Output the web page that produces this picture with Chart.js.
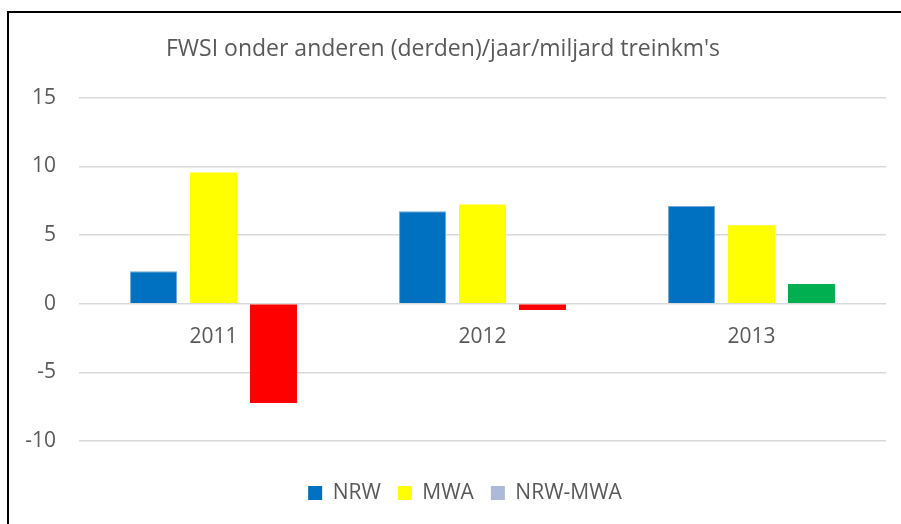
<!DOCTYPE html>
<html>
<head>
<meta charset="utf-8">
<script src="https://cdn.jsdelivr.net/npm/chart.js@4.4.1/dist/chart.umd.min.js"></script>
<style>
  html, body { margin: 0; padding: 0; background: #fff; overflow: hidden; }
  #wrap { position: relative; width: 901px; height: 524px; }
  #frame { position: absolute; left: 7px; top: 11px; width: 1000px; height: 600px;
           border-left: 2px solid #000; border-top: 2px solid #000; pointer-events: none; }
</style>
</head>
<body>
<div id="wrap">
  <canvas id="chart" width="901" height="524"></canvas>
  <div id="frame"></div>
</div>
<script>
// data
const years = ['2011', '2012', '2013'];
const nrw = [2.35, 6.72, 7.11];
const mwa = [9.54, 7.21, 5.7];
const diff = [-7.24, -0.46, 1.43];
const yTicks = [-10, -5, 0, 5, 10, 15];

const textColor = '#595959';
const font = { family: 'Open Sans', size: 21 };

// verschil: rood als negatief, groen als positief
const diffColors = diff.map(v => v < 0 ? '#FF0000' : '#00B050');

// legenda op de plek zetten waar hij in het origineel staat
const legendShift = {
    id: 'legendShift',
    afterLayout(chart) {
        const lg = chart.legend;
        if (!lg) return;
        const p = lg.options.labels.padding;
        const dy = (493 - p - 10.5) - lg.top;
        const dx = 22;
        lg.top += dy; lg.bottom += dy;
        lg.left += dx; lg.right += dx;
    }
};

new Chart(document.getElementById('chart').getContext('2d'), {
    type: 'bar',
    data: {
        labels: years,
        datasets: [
            { label: 'NRW', data: nrw, backgroundColor: '#0070C0', borderColor: '#6FA8DC', borderWidth: 1, borderSkipped: 'bottom' },
            { label: 'MWA', data: mwa, backgroundColor: '#FFFF00' },
            { label: 'NRW-MWA', data: diff, backgroundColor: diffColors, legendColor: '#ADB9D8' }
        ]
    },
    options: {
        responsive: false,
        animation: false,
        layout: { padding: { left: 0, right: 15, top: 0, bottom: 35 } },
        datasets: {
            bar: { categoryPercentage: 0.669, barPercentage: 0.783 }
        },
        scales: {
            x: {
                type: 'category',
                position: { y: 0 },
                grid: { display: false },
                border: { display: false },
                ticks: { color: textColor, font: font, padding: 13, maxRotation: 0 }
            },
            y: {
                min: -10,
                max: 15,
                afterBuildTicks(axis) { axis.ticks = yTicks.map(v => ({ value: v })); },
                afterFit(axis) { axis.width = 79; },
                grid: { color: '#D9D9D9', lineWidth: 1.5, drawTicks: false },
                border: { display: false },
                ticks: { color: textColor, font: font, padding: 23 }
            }
        },
        plugins: {
            title: {
                display: true,
                text: "FWSI onder anderen (derden)/jaar/miljard treinkm's",
                color: textColor,
                font: { family: 'Open Sans', size: 23, weight: 'normal' },
                padding: { top: 36, bottom: 34 }
            },
            legend: {
                position: 'bottom',
                labels: {
                    color: textColor,
                    font: font,
                    boxWidth: 14,
                    boxHeight: 14,
                    padding: 17,
                    generateLabels(chart) {
                        const items = Chart.defaults.plugins.legend.labels.generateLabels(chart);
                        items.forEach(it => {
                            const ds = chart.data.datasets[it.datasetIndex];
                            if (ds.legendColor) it.fillStyle = ds.legendColor;
                            it.lineWidth = 0;
                        });
                        return items;
                    }
                }
            },
            tooltip: { enabled: false }
        }
    },
    plugins: [legendShift]
});
</script>
</body>
</html>
